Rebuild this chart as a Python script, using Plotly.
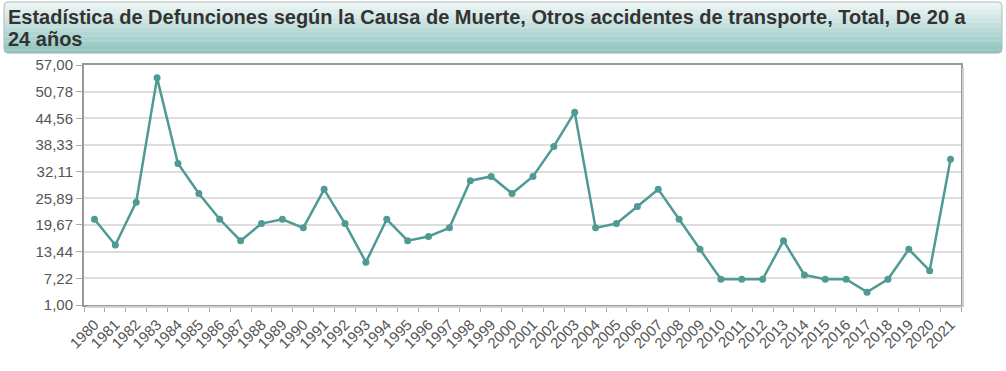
import plotly.graph_objects as go

years = [str(y) for y in range(1980, 2022)]
values = [21, 15, 25, 54, 34, 27, 21, 16, 20, 21, 19, 28, 20, 11, 21, 16, 17, 19, 30, 31,
          27, 31, 38, 46, 19, 20, 24, 28, 21, 14, 7, 7, 7, 16, 8, 7, 7, 4, 7, 14, 9, 35]
y_tick_vals = [1.00, 7.22, 13.44, 19.67, 25.89, 32.11, 38.33, 44.56, 50.78, 57.00]
y_tick_text = ["1,00", "7,22", "13,44", "19,67", "25,89", "32,11", "38,33", "44,56", "50,78", "57,00"]
title_lines = ["Estadística de Defunciones según la Causa de Muerte, Otros accidentes de transporte, Total, De 20 a",
               "24 años"]

W, H = 1006, 371
L, R, T, B = 84, 961, 65, 305
PW, PH = R - L, B - T

def X(px):
    return (px - L) / PW

def Y(py):
    return (B - py) / PH

COLOR = "#4f9a94"

fig = go.Figure()
fig.add_trace(go.Scatter(
    x=years, y=values, mode="lines+markers",
    line=dict(color=COLOR, width=2.5),
    marker=dict(color=COLOR, size=7),
    hoverinfo="x+y",
))

shapes = []
# Title gradient box
x0, x1, y0, y1 = 4, 1002, 2, 53
top_c = (240, 247, 246)
bot_c = (139, 194, 188)
n = 40
for i in range(n):
    t = (i + 0.5) / n
    c = tuple(int(round(top_c[k] + (bot_c[k] - top_c[k]) * t)) for k in range(3))
    ya = y0 + (y1 - y0) * i / n
    yb = y0 + (y1 - y0) * (i + 1) / n + 0.3
    inset = 0
    if i == 0 or i == n - 1:
        inset = 2
    shapes.append(dict(type="rect", xref="paper", yref="paper",
                       x0=X(x0 + inset), x1=X(x1 - inset), y0=Y(yb), y1=Y(ya),
                       fillcolor="rgb(%d,%d,%d)" % c, line=dict(width=0), layer="below"))
r = 4
path = (f"M {X(x0 + r)},{Y(y0)} L {X(x1 - r)},{Y(y0)} Q {X(x1)},{Y(y0)} {X(x1)},{Y(y0 + r)} "
        f"L {X(x1)},{Y(y1 - r)} Q {X(x1)},{Y(y1)} {X(x1 - r)},{Y(y1)} "
        f"L {X(x0 + r)},{Y(y1)} Q {X(x0)},{Y(y1)} {X(x0)},{Y(y1 - r)} "
        f"L {X(x0)},{Y(y0 + r)} Q {X(x0)},{Y(y0)} {X(x0 + r)},{Y(y0)} Z")
shapes.append(dict(type="path", xref="paper", yref="paper", path=path,
                   line=dict(color="#b0b8b8", width=1), fillcolor="rgba(0,0,0,0)"))
# Plot frame shadow
shapes.append(dict(type="line", xref="paper", yref="paper", x0=X(R + 2), x1=X(R + 2), y0=Y(B + 2), y1=Y(T + 3),
                   line=dict(color="#d0d0d0", width=2)))
shapes.append(dict(type="line", xref="paper", yref="paper", x0=X(L + 3), x1=X(R + 2), y0=Y(B + 2), y1=Y(B + 2),
                   line=dict(color="#d0d0d0", width=2)))

annotations = []
for i, line in enumerate(title_lines):
    annotations.append(dict(text="<b>" + line + "</b>", xref="paper", yref="paper",
                            x=X(6), y=Y(17 + 22 * i), xanchor="left", yanchor="middle",
                            align="left", showarrow=False,
                            font=dict(family="Liberation Sans, Arial, sans-serif", size=20, color="#333333")))

fig.update_layout(
    width=W, height=H,
    margin=dict(l=L, r=W - R, t=T, b=H - B),
    paper_bgcolor="white", plot_bgcolor="white",
    showlegend=False,
    font=dict(family="Liberation Sans, Arial, sans-serif", color="#555555", size=13),
    shapes=shapes,
    annotations=annotations,
)
fig.update_xaxes(
    type="category", range=[-0.5, len(years) - 0.5], automargin=False,
    tickangle=-45, tickson="boundaries", ticks="outside", ticklen=5, tickcolor="#aaaaaa",
    ticklabelstandoff=3,
    showline=True, linecolor="#999999", linewidth=2, mirror=True, showgrid=False,
    tickfont=dict(size=15, color="#555555"),
)
fig.update_yaxes(
    range=[1, 57], tickvals=y_tick_vals, ticktext=y_tick_text, automargin=False,
    ticks="outside", ticklen=6, tickcolor="#aaaaaa",
    showline=True, linecolor="#999999", linewidth=2, mirror=True,
    showgrid=True, gridcolor="#dddddd", gridwidth=1.5, zeroline=False,
    tickfont=dict(size=15, color="#555555"),
)
fig.write_html("out.html", config={"displayModeBar": False},
               post_script="document.body.style.margin='0';")
